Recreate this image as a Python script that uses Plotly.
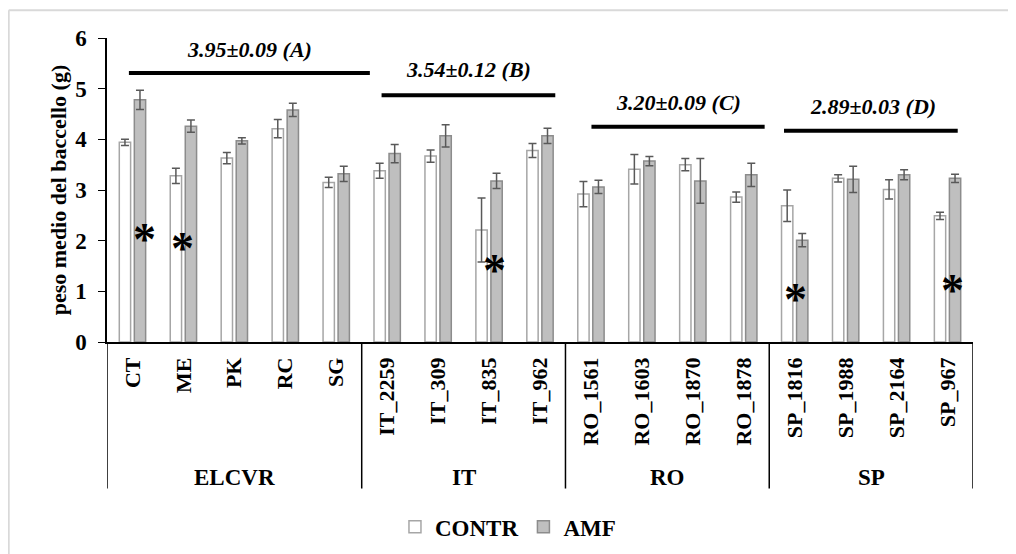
import plotly.graph_objects as go

categories = ["CT", "ME", "PK", "RC", "SG",
              "IT_2259", "IT_309", "IT_835", "IT_962",
              "RO_1561", "RO_1603", "RO_1870", "RO_1878",
              "SP_1816", "SP_1988", "SP_2164", "SP_967"]
groups = ["ELCVR", "IT", "RO", "SP"]
group_sizes = [5, 4, 4, 4]

contr = [3.94, 3.28, 3.63, 4.21, 3.15,
         3.38, 3.67, 2.21, 3.78,
         2.92, 3.41, 3.50, 2.86,
         2.69, 3.23, 3.01, 2.49]
contr_err = [0.06, 0.15, 0.11, 0.18, 0.10,
             0.15, 0.12, 0.63, 0.14,
             0.25, 0.29, 0.12, 0.10,
             0.31, 0.07, 0.19, 0.07]
amf = [4.78, 4.26, 3.97, 4.58, 3.32,
       3.72, 4.07, 3.18, 4.07,
       3.06, 3.57, 3.18, 3.30,
       2.01, 3.21, 3.30, 3.23]
amf_err = [0.19, 0.12, 0.06, 0.13, 0.15,
           0.18, 0.22, 0.15, 0.15,
           0.13, 0.09, 0.44, 0.23,
           0.13, 0.26, 0.10, 0.08]

group_labels = ["3.95±0.09 (A)", "3.54±0.12 (B)", "3.20±0.09 (C)", "2.89±0.03 (D)"]
group_line_y = [5.31, 4.87, 4.25, 4.17]
group_text_y = [5.78, 5.37, 4.73, 4.65]

star_categories = ["CT", "ME", "IT_835", "SP_1816", "SP_967"]
star_y = [2.15, 1.97, 1.52, 0.96, 1.13]

y_ticks = [0, 1, 2, 3, 4, 5, 6]

FONT = "Liberation Serif"

fig = go.Figure()
fig.add_trace(go.Bar(
    name="CONTR", x=categories, y=contr,
    marker=dict(color="white", line=dict(color="#a6a6a6", width=1.5)),
    error_y=dict(type="data", array=contr_err, color="#595959", thickness=1.5, width=4),
))
fig.add_trace(go.Bar(
    name="AMF", x=categories, y=amf,
    marker=dict(color="#bfbfbf", line=dict(color="#8c8c8c", width=1.5)),
    error_y=dict(type="data", array=amf_err, color="#595959", thickness=1.5, width=4),
))

shapes = []
annotations = []

# group dividers, group labels, group mean lines
line_spans = [(-0.07, 4.66), (4.89, 8.30), (9.01, 12.41), (12.79, 16.2)]
text_x = [2.30, 6.60, 10.72, 14.53]
start = 0
shapes.append(dict(type="line", xref="x", yref="paper", x0=-0.5, x1=-0.5,
                   y0=0, y1=-0.482, line=dict(color="black", width=1.5)))
for gi, (g, n) in enumerate(zip(groups, group_sizes)):
    end = start + n
    shapes.append(dict(type="line", xref="x", yref="paper", x0=end - 0.5, x1=end - 0.5,
                       y0=0, y1=-0.482, line=dict(color="black", width=1.5)))
    annotations.append(dict(x=(start + end - 1) / 2, y=-0.445, xref="x", yref="paper",
                            text=g, showarrow=False, yanchor="middle",
                            font=dict(family=FONT, size=23, color="black", weight="bold")))
    x0, x1 = line_spans[gi]
    shapes.append(dict(type="line", xref="x", yref="y", x0=x0, x1=x1,
                       y0=group_line_y[gi], y1=group_line_y[gi],
                       line=dict(color="black", width=4)))
    annotations.append(dict(x=text_x[gi], y=group_text_y[gi], xref="x", yref="y",
                            text="<i>" + group_labels[gi] + "</i>", showarrow=False,
                            yanchor="middle",
                            font=dict(family=FONT, size=22, color="black", weight="bold")))
    start = end

# asterisks
star_dx = [0.24, -0.01, 0.11, 0.01, 0.09]
for c, yv, dx in zip(star_categories, star_y, star_dx):
    annotations.append(dict(x=categories.index(c) + dx, y=yv, xref="x", yref="y",
                            text="*", showarrow=False, yanchor="middle", yshift=-6,
                            font=dict(family=FONT, size=46, color="black", weight="bold")))

# outer frame (top and left edges)
shapes.append(dict(type="line", xref="paper", yref="paper", x0=-0.1135, x1=1.06,
                   y0=1.091, y1=1.091, line=dict(color="#d9d9d9", width=2)))
shapes.append(dict(type="line", xref="paper", yref="paper", x0=-0.1135, x1=-0.1135,
                   y0=1.091, y1=-0.72, line=dict(color="#d9d9d9", width=2)))

fig.update_layout(
    width=1008, height=546,
    margin=dict(l=99.3, r=42.7, t=30.3, b=212.3, autoexpand=False),
    paper_bgcolor="white", plot_bgcolor="white",
    barmode="group", bargap=0.41, bargroupgap=0.247,
    font=dict(family=FONT, color="black"),
    shapes=shapes, annotations=annotations,
    showlegend=True,
    legend=dict(orientation="h", xref="container", yref="container",
                x=0.496, y=0.05, xanchor="center", yanchor="middle",
                font=dict(family=FONT, size=23, color="black", weight="bold"),
                itemwidth=30, traceorder="normal"),
)
fig.update_xaxes(
    type="category", categoryorder="array", categoryarray=categories,
    range=[-0.5, len(categories) - 0.5],
    showline=True, linecolor="black", linewidth=1.5,
    ticks="outside", ticklen=5, tickcolor="rgba(0,0,0,0)",
    tickangle=-90, showgrid=False, automargin=False,
    tickfont=dict(family=FONT, size=22, color="black", weight="bold"),
)
fig.update_yaxes(
    range=[0, 6], tickvals=y_ticks,
    showline=True, linecolor="black", linewidth=1.5,
    ticks="outside", ticklen=7, tickcolor="black", showgrid=False, zeroline=False,
    automargin=False, ticklabelstandoff=7,
    tickfont=dict(family=FONT, size=23, color="black", weight="bold"),
    title=dict(text="peso medio del baccello (g)", standoff=2,
               font=dict(family=FONT, size=22, color="black", weight="bold")),
)

fig.write_html("out.html")
